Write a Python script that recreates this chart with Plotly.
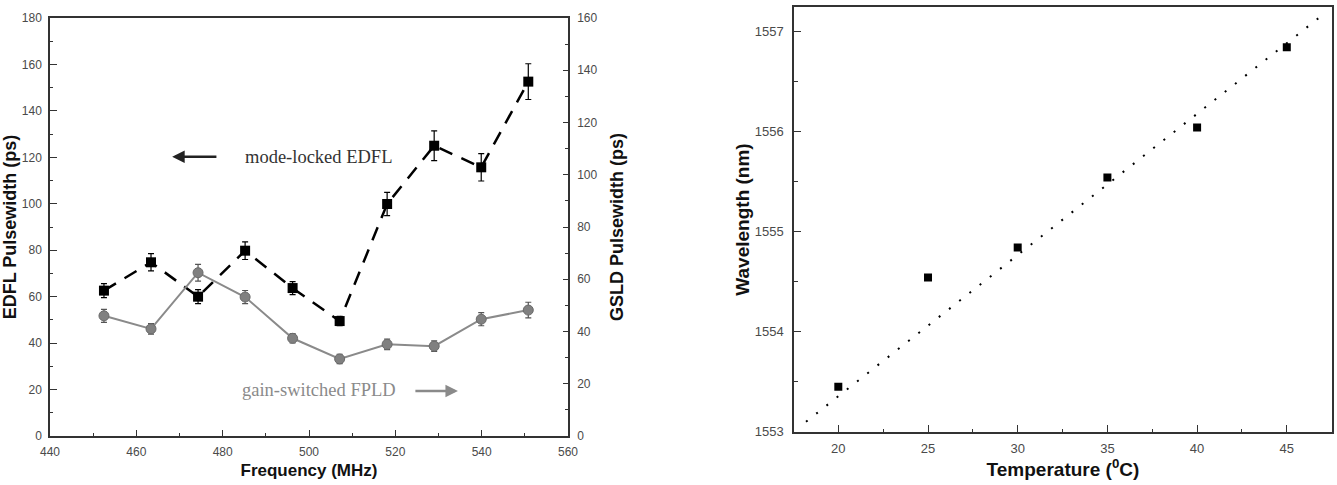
import plotly.graph_objects as go

# ---- Left panel data ----
freq = [452.5, 463.4, 474.3, 485.2, 496.2, 507.1, 518.1, 529.0, 539.9, 550.8]
edfl_pw = [62.6, 74.8, 60.0, 79.8, 63.7, 49.5, 99.9, 125.0, 115.7, 152.6]
edfl_err = [3.0, 3.7, 3.0, 3.8, 2.8, 2.0, 5.0, 6.4, 5.9, 7.7]
gsld_pw = [46.0, 41.0, 62.5, 53.2, 37.4, 29.5, 35.1, 34.4, 44.7, 48.2]
gsld_err = [2.5, 2.0, 3.2, 2.5, 1.8, 1.8, 2.0, 2.0, 2.5, 3.0]

# ---- Right panel data ----
temp = [20, 25, 30, 35, 40, 45]
wavelength = [1553.45, 1554.54, 1554.84, 1555.54, 1556.04, 1556.84]
fit_temp = [18.2, 46.9]
fit_wavelength = [1553.10, 1557.15]

W, H = 1337, 485
def fx(a, b):
    return [a / W, b / W]
def fy(top, bottom):
    return [1 - bottom / H, 1 - top / H]

AX = "#333333"
TICKC = "#4a4a4a"
tickfont = dict(family="Liberation Sans, Arial", size=12, color=TICKC)
tickfont2 = dict(family="Liberation Sans, Arial", size=13, color=TICKC)
titlefont_y = dict(family="Liberation Sans, Arial", size=18, color="#111111")
titlefont_x = dict(family="Liberation Sans, Arial", size=17, color="#111111")
titlefont2 = dict(family="Liberation Sans, Arial", size=19, color="#111111")

fig = go.Figure()

fig.add_trace(go.Scatter(
    x=freq, y=edfl_pw, mode="lines+markers",
    line=dict(color="black", width=2.5, dash="14px,10px"),
    marker=dict(symbol="square", size=10, color="black"),
    error_y=dict(type="data", array=edfl_err, color="black", thickness=1.2, width=3),
    xaxis="x", yaxis="y", showlegend=False))

fig.add_trace(go.Scatter(
    x=freq, y=gsld_pw, mode="lines+markers",
    line=dict(color="#8a8a8a", width=2),
    marker=dict(symbol="circle", size=10, color="#808080", line=dict(color="#6a6a6a", width=1)),
    error_y=dict(type="data", array=gsld_err, color="#555555", thickness=1.2, width=3),
    xaxis="x", yaxis="y3", showlegend=False))

fig.add_trace(go.Scatter(
    x=fit_temp, y=fit_wavelength, mode="lines",
    line=dict(color="black", width=2, dash="2px,11px"),
    xaxis="x2", yaxis="y2", showlegend=False))

fig.add_trace(go.Scatter(
    x=temp, y=wavelength, mode="markers",
    marker=dict(symbol="square", size=8, color="black"),
    xaxis="x2", yaxis="y2", showlegend=False))

common = dict(showgrid=False, zeroline=False, showline=True, linecolor=AX, linewidth=1.5,
              ticks="inside", tickcolor=AX, tickwidth=1.2, automargin=False)

fig.update_layout(
    width=W, height=H,
    margin=dict(l=0, r=0, t=0, b=0),
    paper_bgcolor="white", plot_bgcolor="white",
    xaxis=dict(domain=fx(50, 568), anchor="y", range=[440, 560], dtick=20, ticklen=6,
               minor=dict(dtick=10, ticklen=3, ticks="inside", tickcolor=AX),
               mirror=True, tickfont=tickfont, ticklabelstandoff=4,
               title=dict(text="<b>Frequency (MHz)</b>", font=titlefont_x, standoff=6),
               **common),
    yaxis=dict(domain=fy(18, 436), anchor="x", range=[0, 180], dtick=20, ticklen=7,
               minor=dict(dtick=10, ticklen=3, ticks="inside", tickcolor=AX),
               tickfont=tickfont, ticklabelstandoff=4,
               title=dict(text="<b>EDFL Pulsewidth (ps)</b>", font=titlefont_y, standoff=2),
               **common),
    yaxis3=dict(overlaying="y", side="right", anchor="x", range=[0, 160], dtick=20, ticklen=5,
                minor=dict(dtick=10, ticklen=3, ticks="inside", tickcolor=AX),
                tickfont=tickfont, ticklabelstandoff=5,
                title=dict(text="<b>GSLD Pulsewidth (ps)</b>", font=titlefont_y, standoff=14),
                **common),
    xaxis2=dict(domain=fx(794, 1332), anchor="y2", range=[17.53, 47.52], dtick=5, tick0=0,
                ticklen=7, mirror=True, tickfont=tickfont2, ticklabelstandoff=4,
                minor=dict(dtick=2.5, ticklen=3, ticks="inside", tickcolor=AX),
                title=dict(text="<b>Temperature (<sup>0</sup>C)</b>", font=titlefont2, standoff=4),
                **common),
    yaxis2=dict(domain=fy(7.3, 431.7), anchor="x2", range=[1553, 1557.24], dtick=1,
                ticklen=7, mirror=True, tickfont=tickfont2, ticklabelstandoff=6,
                minor=dict(dtick=0.5, ticklen=4, ticks="inside", tickcolor=AX),
                title=dict(text="<b>Wavelength (nm)</b>", font=titlefont2, standoff=0),
                **common),
    annotations=[
        dict(x=484.7, y=120.2, xref="x", yref="y", text="mode-locked EDFL", showarrow=False,
             xanchor="left", yanchor="middle",
             font=dict(family="Liberation Serif, Times New Roman", size=18.5, color="#333333")),
        dict(x=468.3, y=120.2, ax=478.9, ay=120.2, xref="x", yref="y", axref="x", ayref="y",
             text="", showarrow=True, arrowhead=2, arrowsize=1, arrowwidth=2.5, arrowcolor="#222222"),
        dict(x=484.0, y=19.8, xref="x", yref="y", text="gain-switched FPLD", showarrow=False,
             xanchor="left", yanchor="middle",
             font=dict(family="Liberation Serif, Times New Roman", size=18.5, color="#8a8a8a")),
        dict(x=534.5, y=19.4, ax=524.3, ay=19.4, xref="x", yref="y", axref="x", ayref="y",
             text="", showarrow=True, arrowhead=2, arrowsize=1, arrowwidth=2.5, arrowcolor="#8a8a8a"),
    ],
)

fig.write_html("out.html")
